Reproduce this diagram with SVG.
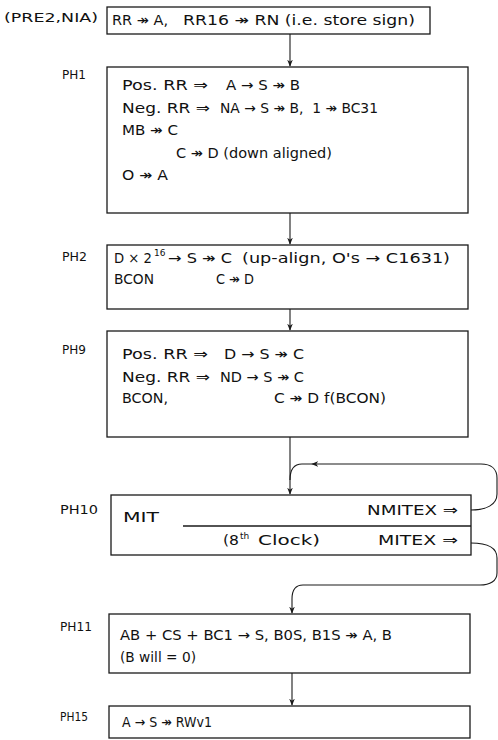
<svg xmlns="http://www.w3.org/2000/svg" width="498" height="740" viewBox="0 0 498 740">
  <style>
    .box { fill: none; stroke: #1a1a1a; stroke-width: 1.3; }
    .wire { fill: none; stroke: #1a1a1a; stroke-width: 1.1; }
    .t { font-family: "DejaVu Sans", "Liberation Sans", sans-serif; font-size: 14px; fill: #111; white-space: pre; }
    .lbl { font-family: "DejaVu Sans", "Liberation Sans", sans-serif; font-size: 12.5px; fill: #111; white-space: pre; }
    .sup { font-size: 9px; }
  </style>
  <defs>
    <marker id="head" viewBox="0 0 10 10" refX="9" refY="5" markerWidth="7" markerHeight="7" orient="auto" markerUnits="userSpaceOnUse">
      <path d="M0,1 L10,5 L0,9 L3,5 Z" fill="#1a1a1a"/>
    </marker>
  </defs>
  <rect width="498" height="740" fill="#ffffff"/>

  <!-- connectors -->
  <g id="connectors">
    <line class="wire" x1="290" y1="34" x2="290" y2="66" marker-end="url(#head)"/>
    <line class="wire" x1="290" y1="213" x2="290" y2="244" marker-end="url(#head)"/>
    <line class="wire" x1="290" y1="309" x2="290" y2="330" marker-end="url(#head)"/>
    <line class="wire" x1="290" y1="437" x2="290" y2="494" marker-end="url(#head)"/>
    <!-- NMITEX: loop back into PH10 -->
    <path class="wire" d="M471,510 C486,510 497,505 497,494 L497,478 C497,469 491,464 481,464 L312,464" marker-end="url(#head)"/>
    <path class="wire" d="M312,464 L302,464 C294,464 290,470 290,480"/>
    <!-- MITEX: exit to PH11 -->
    <path class="wire" d="M471,543 C488,543 497,548 497,558 L497,573 C497,581 490,585 480,585 L303,585 C296,585 292,590 292,599 L292,613" marker-end="url(#head)"/>
    <line class="wire" x1="292" y1="673" x2="292" y2="705" marker-end="url(#head)"/>
  </g>

  <!-- entry -->
  <g id="pre2">
    <text class="lbl" x="4" y="22" textLength="94" lengthAdjust="spacingAndGlyphs">(PRE2,NIA)</text>
    <rect class="box" x="107" y="7" width="323" height="27"/>
    <text class="t" x="112" y="25" textLength="56" lengthAdjust="spacingAndGlyphs">RR ↠ A,</text>
    <text class="t" x="183" y="25" textLength="232" lengthAdjust="spacingAndGlyphs">RR16 ↠ RN (i.e. store sign)</text>
  </g>

  <g id="ph1">
    <text class="lbl" x="62" y="79" textLength="24" lengthAdjust="spacingAndGlyphs">PH1</text>
    <rect class="box" x="107" y="67" width="361" height="146"/>
    <text class="t" x="122" y="90" textLength="86" lengthAdjust="spacingAndGlyphs">Pos. RR ⇒</text>
    <text class="t" x="226" y="90" textLength="74" lengthAdjust="spacingAndGlyphs">A → S ↠ B</text>
    <text class="t" x="122" y="113" textLength="88" lengthAdjust="spacingAndGlyphs">Neg. RR ⇒</text>
    <text class="t" x="220" y="113" textLength="158" lengthAdjust="spacingAndGlyphs">NA → S ↠ B,  1 ↠ BC31</text>
    <text class="t" x="122" y="135" textLength="56" lengthAdjust="spacingAndGlyphs">MB ↠ C</text>
    <text class="t" x="176" y="158" textLength="156" lengthAdjust="spacingAndGlyphs">C ↠ D (down aligned)</text>
    <text class="t" x="122" y="180" textLength="46" lengthAdjust="spacingAndGlyphs">O ↠ A</text>
  </g>

  <g id="ph2">
    <text class="lbl" x="62" y="261" textLength="25" lengthAdjust="spacingAndGlyphs">PH2</text>
    <rect class="box" x="107" y="245" width="361" height="64"/>
    <text class="t" x="114" y="263" textLength="38" lengthAdjust="spacingAndGlyphs">D × 2</text>
    <text class="t sup" x="154" y="256">16</text>
    <text class="t" x="168" y="263" textLength="64" lengthAdjust="spacingAndGlyphs">→ S ↠ C</text>
    <text class="t" x="242" y="263" textLength="208" lengthAdjust="spacingAndGlyphs">(up-align, O's → C1631)</text>
    <text class="t" x="114" y="284" textLength="40" lengthAdjust="spacingAndGlyphs">BCON</text>
    <text class="t" x="216" y="284" textLength="38" lengthAdjust="spacingAndGlyphs">C ↠ D</text>
  </g>

  <g id="ph9">
    <text class="lbl" x="62" y="354" textLength="24" lengthAdjust="spacingAndGlyphs">PH9</text>
    <rect class="box" x="107" y="331" width="361" height="106"/>
    <text class="t" x="122" y="359" textLength="86" lengthAdjust="spacingAndGlyphs">Pos. RR ⇒</text>
    <text class="t" x="224" y="359" textLength="80" lengthAdjust="spacingAndGlyphs">D → S ↠ C</text>
    <text class="t" x="122" y="382" textLength="88" lengthAdjust="spacingAndGlyphs">Neg. RR ⇒</text>
    <text class="t" x="220" y="382" textLength="84" lengthAdjust="spacingAndGlyphs">ND → S ↠ C</text>
    <text class="t" x="122" y="403" textLength="46" lengthAdjust="spacingAndGlyphs">BCON,</text>
    <text class="t" x="274" y="403" textLength="112" lengthAdjust="spacingAndGlyphs">C ↠ D f(BCON)</text>
  </g>

  <g id="ph10">
    <text class="lbl" x="60" y="514" textLength="38" lengthAdjust="spacingAndGlyphs">PH10</text>
    <rect class="box" x="111" y="495" width="360" height="60"/>
    <line class="box" x1="183" y1="526" x2="471" y2="526"/>
    <text class="t" x="123" y="522" textLength="36" lengthAdjust="spacingAndGlyphs">MIT</text>
    <text class="t" x="367" y="515" textLength="91" lengthAdjust="spacingAndGlyphs">NMITEX ⇒</text>
    <text class="t" x="223" y="545" textLength="16" lengthAdjust="spacingAndGlyphs">(8</text>
    <text class="t sup" x="240" y="539">th</text>
    <text class="t" x="258" y="545" textLength="62" lengthAdjust="spacingAndGlyphs">Clock)</text>
    <text class="t" x="378" y="545" textLength="80" lengthAdjust="spacingAndGlyphs">MITEX ⇒</text>
  </g>

  <g id="ph11">
    <text class="lbl" x="60" y="631" textLength="32" lengthAdjust="spacingAndGlyphs">PH11</text>
    <rect class="box" x="109" y="614" width="361" height="59"/>
    <text class="t" x="120" y="640" textLength="272" lengthAdjust="spacingAndGlyphs">AB + CS + BC1 → S, B0S, B1S ↠ A, B</text>
    <text class="t" x="120" y="662" textLength="76" lengthAdjust="spacingAndGlyphs">(B will = 0)</text>
  </g>

  <g id="ph15">
    <text class="lbl" x="60" y="721" textLength="28" lengthAdjust="spacingAndGlyphs">PH15</text>
    <rect class="box" x="109" y="706" width="361" height="32"/>
    <text class="t" x="122" y="727" textLength="90" lengthAdjust="spacingAndGlyphs">A → S ↠ RWv1</text>
  </g>
</svg>
